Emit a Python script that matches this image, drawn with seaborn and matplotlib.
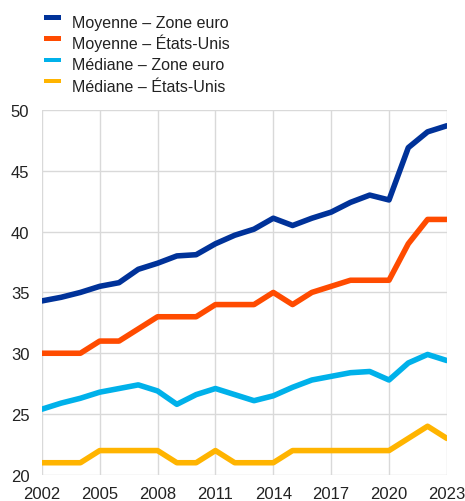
import numpy as np
import pandas as pd
import matplotlib
matplotlib.use("Agg")
import matplotlib.pyplot as plt
import seaborn as sns
from matplotlib.patches import Rectangle

years = list(range(2002, 2024))
moy_ze = [34.3, 34.6, 35.0, 35.5, 35.8, 36.9, 37.4, 38.0, 38.1, 39.0, 39.7, 40.2,
          41.1, 40.5, 41.1, 41.6, 42.4, 43.0, 42.6, 46.9, 48.2, 48.7]
moy_us = [30, 30, 30, 31, 31, 32, 33, 33, 33, 34, 34, 34,
          35, 34, 35, 35.5, 36, 36, 36, 39, 41, 41]
med_ze = [25.4, 25.9, 26.3, 26.8, 27.1, 27.4, 26.9, 25.8, 26.6, 27.1, 26.6, 26.1,
          26.5, 27.2, 27.8, 28.1, 28.4, 28.5, 27.8, 29.2, 29.9, 29.4]
med_us = [21, 21, 21, 22, 22, 22, 22, 21, 21, 22, 21, 21,
          21, 22, 22, 22, 22, 22, 22, 23, 24, 23]
series_names = ["Moyenne – Zone euro", "Moyenne – États-Unis",
                "Médiane – Zone euro", "Médiane – États-Unis"]
colors = ["#003299", "#FF4B00", "#00B1EA", "#FFB400"]
x_ticks = [2002, 2005, 2008, 2011, 2014, 2017, 2020, 2023]
y_ticks = [20, 25, 30, 35, 40, 45, 50]

frames = []
for name, vals in zip(series_names, [moy_ze, moy_us, med_ze, med_us]):
    frames.append(pd.DataFrame({"year": years, "value": vals, "series": name}))
df = pd.concat(frames, ignore_index=True)

sns.set_theme(style="white")
plt.rcParams["font.family"] = ["Liberation Sans", "DejaVu Sans"]

W, H = 465, 502
fig = plt.figure(figsize=(W / 100, H / 100), dpi=100)
ax = fig.add_axes([0.090, 0.052, 0.871, 0.727])

sns.lineplot(data=df, x="year", y="value", hue="series", hue_order=series_names,
             palette=colors, linewidth=4, ax=ax, legend=False, zorder=3)

ax.set_xlim(2002, 2023)
ax.set_ylim(20, 50)
ax.set_xticks(x_ticks)
ax.set_yticks(y_ticks)
ax.grid(True, color="#d9d9d9", linewidth=1)
ax.set_axisbelow(True)
for s in ax.spines.values():
    s.set_visible(False)
ax.set_xlabel("")
ax.set_ylabel("")
ax.tick_params(axis="both", labelsize=12, length=0, colors="#222222")
ax.tick_params(axis="y", pad=9)
ax.tick_params(axis="x", pad=8)

# Legend drawn as evenly spaced rows (patch handles + labels)
row_step = 21.3
for i, (name, c) in enumerate(zip(series_names, colors)):
    top = 16 + row_step * i
    fig.add_artist(Rectangle((44 / W, 1 - (top + 4.5) / H), 17 / W, 4.5 / H,
                             transform=fig.transFigure, facecolor=c,
                             edgecolor="none"))
    fig.text(72 / W, 1 - (27.7 + row_step * i) / H, name, fontsize=11.5,
             va="baseline", ha="left", color="#222222")

fig.savefig("out.png", dpi=100)
